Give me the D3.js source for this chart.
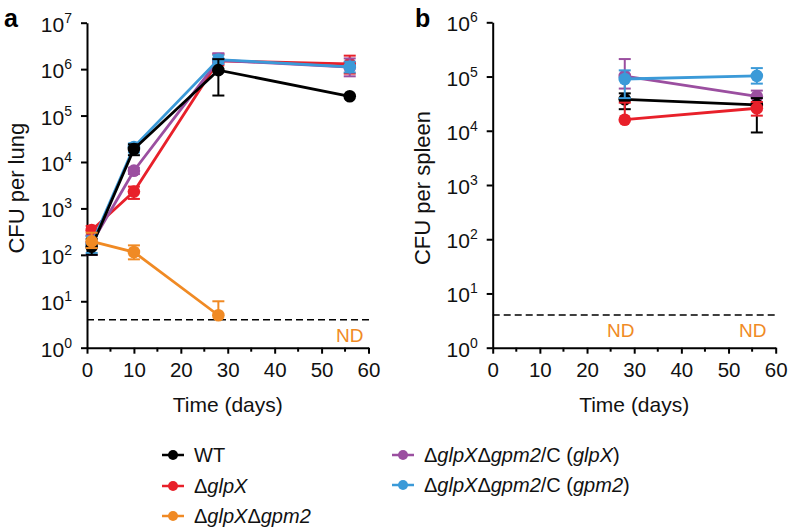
<!DOCTYPE html>
<html><head><meta charset="utf-8">
<script src="https://cdn.jsdelivr.net/npm/d3@7"></script>
<style>
body{margin:0;background:#fff;}
text{font-family:"Liberation Sans",Arial,Helvetica,sans-serif;}
</style></head>
<body><svg id="c" width="788" height="530"></svg>
<script>
// ---- data ----
const lungDays = [1, 10, 28, 56];
const lungWT = [150, 19000, 950000, 260000];
const lungWTLo = [100, 14000, 270000, 260000];
const lungWTHi = [220, 24000, 1640000, 260000];
const lungGlpX = [340, 2300, 1500000, 1300000];
const lungGlpXLo = [260, 1600, 1200000, 800000];
const lungGlpXHi = [420, 2950, 2100000, 1950000];
const lungDoubleDays = [1, 10, 28];
const lungDouble = [195, 115, 5];
const lungDoubleLo = [140, 80, 5];
const lungDoubleHi = [300, 160, 10];
const lungCGlpX = [180, 6500, 1550000, 1100000];
const lungCGlpXLo = [100, 5500, 1300000, 700000];
const lungCGlpXHi = [260, 7500, 2200000, 1700000];
const lungCGpm2 = [170, 21000, 1600000, 1120000];
const lungCGpm2Lo = [110, 16000, 1300000, 850000];
const lungCGpm2Hi = [250, 25000, 2000000, 1450000];

const spleenDays = [28, 56];
const spleenWT = [38000, 30000];
const spleenWTLo = [25000, 9300];
const spleenWTHi = [49000, 40000];
const spleenGlpX = [16000, 26000];
const spleenGlpXLo = [16000, 19000];
const spleenGlpXHi = [33000, 34000];
const spleenCGlpX = [102000, 43000];
const spleenCGlpXLo = [60000, 33000];
const spleenCGlpXHi = [210000, 55000];
const spleenCGpm2 = [90000, 103000];
const spleenCGpm2Lo = [40000, 74000];
const spleenCGpm2Hi = [130000, 143000];

const detectionLimit = 4;
const xTicks = [0, 10, 20, 30, 40, 50, 60];
const xMinorTicks = [5, 15, 25, 35, 45, 55];
const lungYExps = [0, 1, 2, 3, 4, 5, 6, 7];
const spleenYExps = [0, 1, 2, 3, 4, 5, 6];

const colors = {wt:"#000000", glpx:"#e8202a", dbl:"#f08a24", cglpx:"#9b4fa0", cgpm2:"#3b9ad8"};

const legendItems = [
  {key:"wt", parts:[["WT",false]]},
  {key:"glpx", parts:[["Δ",false],["glpX",true]]},
  {key:"dbl", parts:[["Δ",false],["glpX",true],["Δ",false],["gpm2",true]]},
  {key:"cglpx", parts:[["Δ",false],["glpX",true],["Δ",false],["gpm2",true],["/C (",false],["glpX",true],[")",false]]},
  {key:"cgpm2", parts:[["Δ",false],["glpX",true],["Δ",false],["gpm2",true],["/C (",false],["gpm2",true],[")",false]]}
];

const svg = d3.select("#c");

function panel(opts){
  const g = svg.append("g");
  const x = d3.scaleLinear().domain([0,60]).range(opts.xr);
  const y = d3.scaleLog().domain([1, Math.pow(10, opts.maxExp)]).range([opts.yBottom, opts.yTop]);

  // dashed detection limit
  g.append("line").attr("x1", x(0)).attr("x2", x(60)+2)
    .attr("y1", y(detectionLimit)).attr("y2", y(detectionLimit))
    .attr("stroke","#000").attr("stroke-width",1.5).attr("stroke-dasharray","7,4");

  // axes
  const xa = g.append("g").attr("transform",`translate(0,${opts.yBottom})`)
    .call(d3.axisBottom(x).tickValues(xTicks).tickSize(6).tickSizeOuter(0).tickPadding(9));
  xa.select(".domain").attr("stroke-width",2);
  xa.selectAll(".tick line").attr("stroke-width",2);
  xa.selectAll(".tick text").attr("font-size",20.5).attr("fill","#111");
  xa.selectAll(".minor").data(xMinorTicks).enter().append("line")
    .attr("x1",d=>x(d)).attr("x2",d=>x(d)).attr("y1",0).attr("y2",4)
    .attr("stroke","#000").attr("stroke-width",2);
  xa.attr("font-family",null);

  const ya = g.append("g").attr("transform",`translate(${opts.xr[0]},0)`)
    .call(d3.axisLeft(y).tickValues(opts.exps.map(e=>Math.pow(10,e))).tickSize(6).tickSizeOuter(0).tickFormat(""));
  ya.select(".domain").attr("stroke-width",2);
  ya.selectAll(".tick line").attr("stroke-width",2);
  opts.exps.forEach(e=>{
    const t = g.append("text").attr("x", opts.xr[0]-15).attr("y", y(Math.pow(10,e))+9)
      .attr("text-anchor","end").attr("font-size",21).attr("fill","#111");
    t.append("tspan").text("10");
    t.append("tspan").attr("dy",-9).attr("font-size",14).text(String(e));
  });

  // titles
  g.append("text").attr("x",(opts.xr[0]+opts.xr[1])/2).attr("y",412)
    .attr("text-anchor","middle").attr("font-size",21).attr("fill","#111").text("Time (days)");
  g.append("text").attr("transform",`translate(${opts.ytx},${(opts.yTop+opts.yBottom)/2+3}) rotate(-90)`)
    .attr("text-anchor","middle").attr("font-size",22).attr("fill","#111").text(opts.ytitle);
  g.append("text").attr("x",opts.lx).attr("y",27).attr("font-size",25).attr("font-weight","bold").text(opts.letter);

  // ND labels
  opts.nd.forEach(d=>{
    g.append("text").attr("x",x(d)+opts.ndOff).attr("y",y(detectionLimit)+22)
      .attr("text-anchor","middle").attr("font-size",19).attr("fill",colors.dbl).text("ND");
  });

  // series
  const line = d3.line().x(d=>x(d.d)).y(d=>y(d.v));
  opts.series.forEach(s=>{
    const pts = s.days.map((d,i)=>({d, v:s.v[i], lo:s.lo[i], hi:s.hi[i]}));
    const sg = g.append("g");
    sg.append("path").datum(pts).attr("d",line).attr("fill","none")
      .attr("stroke",colors[s.key]).attr("stroke-width",2.8);
    pts.forEach(p=>{
      sg.append("line").attr("x1",x(p.d)).attr("x2",x(p.d)).attr("y1",y(p.lo)).attr("y2",y(p.hi))
        .attr("stroke",colors[s.key]).attr("stroke-width",2);
      [p.lo,p.hi].forEach(v=>{ if(v!==p.v) sg.append("line").attr("x1",x(p.d)-6).attr("x2",x(p.d)+6)
        .attr("y1",y(v)).attr("y2",y(v)).attr("stroke",colors[s.key]).attr("stroke-width",2); });
    });
    sg.selectAll("circle").data(pts).enter().append("circle")
      .attr("cx",p=>x(p.d)).attr("cy",p=>y(p.v)).attr("r",6.3).attr("fill",colors[s.key]);
  });
}

panel({xr:[87,368.5], yTop:22.7, yBottom:347.7, maxExp:7, exps:lungYExps, ytitle:"CFU per lung", ytx:24, letter:"a", lx:4, nd:[56], ndOff:0,
  series:[
    {key:"glpx", days:lungDays, v:lungGlpX, lo:lungGlpXLo, hi:lungGlpXHi},
    {key:"cglpx", days:lungDays, v:lungCGlpX, lo:lungCGlpXLo, hi:lungCGlpXHi},
    {key:"cgpm2", days:lungDays, v:lungCGpm2, lo:lungCGpm2Lo, hi:lungCGpm2Hi},
    {key:"wt", days:lungDays, v:lungWT, lo:lungWTLo, hi:lungWTHi},
    {key:"dbl", days:lungDoubleDays, v:lungDouble, lo:lungDoubleLo, hi:lungDoubleHi}
  ]});

panel({xr:[492.7,775.7], yTop:22.3, yBottom:347.7, maxExp:6, exps:spleenYExps, ytitle:"CFU per spleen", ytx:430, letter:"b", lx:415, nd:[28,56], ndOff:-4,
  series:[
    {key:"cglpx", days:spleenDays, v:spleenCGlpX, lo:spleenCGlpXLo, hi:spleenCGlpXHi},
    {key:"wt", days:spleenDays, v:spleenWT, lo:spleenWTLo, hi:spleenWTHi},
    {key:"glpx", days:spleenDays, v:spleenGlpX, lo:spleenGlpXLo, hi:spleenGlpXHi},
    {key:"cgpm2", days:spleenDays, v:spleenCGpm2, lo:spleenCGpm2Lo, hi:spleenCGpm2Hi}
  ]});

// legend
const legPos = [[162,462],[162,493],[162,523],[392,462],[392,492]];
legendItems.forEach((it,i)=>{
  const [lx,ly] = legPos[i];
  const lg = svg.append("g");
  lg.append("line").attr("x1",lx).attr("x2",lx+22).attr("y1",ly-7).attr("y2",ly-7)
    .attr("stroke",colors[it.key]).attr("stroke-width",2.5);
  lg.append("circle").attr("cx",lx+11).attr("cy",ly-7).attr("r",5).attr("fill",colors[it.key]);
  const t = lg.append("text").attr("x",lx+32).attr("y",ly).attr("font-size",20).attr("fill","#111");
  it.parts.forEach(p=>t.append("tspan").attr("font-style",p[1]?"italic":"normal").text(p[0]));
});
</script></body></html>
